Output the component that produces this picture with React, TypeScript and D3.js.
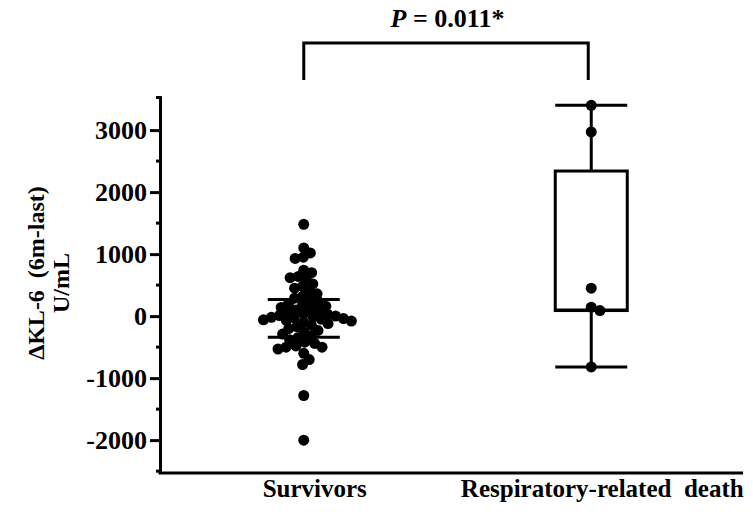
import React, { useEffect, useRef } from "react";
import * as d3 from "d3";

const groups = ["Survivors", "Respiratory-related death"];
const xLabels = ["Survivors", "Respiratory-related\u00a0\u00a0death"];

// ΔKL-6 values (U/mL)
const survivors = [
  1480, 1100, 1020, 950, 930, 740, 700, 640, 620, 600, 520, 480, 450, 400, 360, 320, 290,
  250, 230, 200, 180, 160, 140, 120, 100, 80, 60, 40, 30, 10, 0, -10, -20, -30, -40, -50,
  -60, -70, -80, -100, -120, -150, -170, -200, -230, -260, -290, -320,
  -350, -380, -420, -440, -480, -500, -500, -530, -600, -700, -780, -1280, -2000,
];
const deaths = [3400, 2970, 450, 145, 90, -820];

// survivors: interquartile bars
const survivorBars = [270, -340];
// death group box: min, q1, median, q3, max
const deathBox = [-820, 90, 100, 2340, 3400];

const yTicks = [-2000, -1000, 0, 1000, 2000, 3000];
const yMinor = [-2500, -1500, -500, 500, 1500, 2500];
const pText = " = 0.011*";

// simple beeswarm: keep each dot as close to the centre as it can get
const swarm = (values, yScale, d) => {
  const placed = [];
  const order = values.map((v, i) => i).sort((a, b) => values[b] - values[a]);
  const out = new Array(values.length);
  order.forEach((i) => {
    const yy = yScale(values[i]);
    const cands = [0];
    placed.forEach((p) => {
      const dy = Math.abs(p.y - yy);
      if (dy < d) {
        const dx = Math.sqrt(d * d - dy * dy);
        cands.push(p.x + dx, p.x - dx);
      }
    });
    cands.sort((a, b) => Math.abs(a) - Math.abs(b));
    const ok = cands.find((c) =>
      placed.every((p) => Math.hypot(p.x - c, p.y - yy) >= d - 0.01)
    );
    const xx = ok === undefined ? 0 : ok;
    placed.push({ x: xx, y: yy });
    out[i] = { x: xx, y: yy };
  });
  return out;
};

const App = () => {
  const svgRef = useRef(null);

  useEffect(() => {
    const w = 753;
    const h = 521;
    const left = 160, right = 735, top = 96, bottom = 473;
    const font = "'Liberation Serif', 'Times New Roman', serif";
    const r = 5.5;

    const svg = d3.select(svgRef.current);
    svg.selectAll("*").remove();
    svg.attr("width", w).attr("height", h);

    const x = d3.scalePoint().domain(groups).range([left, right]).padding(0.5);
    const y = d3.scaleLinear().domain([-2530, 3550]).range([bottom, top]);

    // y axis
    const yAxis = svg.append("g")
      .attr("transform", `translate(${left},0)`)
      .call(d3.axisLeft(y).tickValues(yTicks).tickSize(10).tickSizeOuter(0).tickPadding(3).tickFormat((d) => String(d)));
    yAxis.select(".domain").attr("stroke-width", 3);
    yAxis.selectAll(".tick line").attr("stroke-width", 3);
    yAxis.selectAll(".tick text")
      .attr("font-family", font).attr("font-size", 26).attr("font-weight", "bold").attr("fill", "#000");

    svg.append("g").selectAll("line").data(yMinor).join("line")
      .attr("x1", left - 4).attr("x2", left)
      .attr("y1", (d) => y(d)).attr("y2", (d) => y(d))
      .attr("stroke", "#000").attr("stroke-width", 3);
    // little cap at the top of the y axis
    svg.append("line")
      .attr("x1", left - 4).attr("x2", left + 1.5)
      .attr("y1", top + 1.5).attr("y2", top + 1.5)
      .attr("stroke", "#000").attr("stroke-width", 3);

    // x axis line
    svg.append("line")
      .attr("x1", left - 1.5).attr("x2", w - 10)
      .attr("y1", bottom).attr("y2", bottom)
      .attr("stroke", "#000").attr("stroke-width", 3);

    // x labels
    svg.append("g").selectAll("text").data(groups).join("text")
      .attr("x", (d) => x(d) + 11)
      .attr("y", 497)
      .attr("text-anchor", "middle")
      .attr("font-family", font).attr("font-size", 25).attr("font-weight", "bold")
      .text((d, i) => xLabels[i]);

    // y label
    const yl = svg.append("g").attr("font-family", font).attr("font-size", 24).attr("font-weight", "bold");
    yl.append("text")
      .attr("transform", "translate(44,273) rotate(-90)")
      .attr("text-anchor", "middle")
      .text("\u0394KL-6\u00a0\u00a0(6m-last)");
    yl.append("text")
      .attr("transform", "translate(69,283) rotate(-90)")
      .attr("text-anchor", "middle")
      .text("U/mL");

    // survivors scatter
    const cx0 = x(groups[0]);
    const pos = swarm(survivors, y, r * 1.5);
    svg.append("g").selectAll("circle").data(pos).join("circle")
      .attr("cx", (d) => cx0 + d.x).attr("cy", (d) => d.y).attr("r", r).attr("fill", "#000");
    svg.append("g").selectAll("line").data(survivorBars).join("line")
      .attr("x1", cx0 - 36).attr("x2", cx0 + 36)
      .attr("y1", (d) => y(d)).attr("y2", (d) => y(d))
      .attr("stroke", "#000").attr("stroke-width", 3);

    // death box plot
    const cx1 = x(groups[1]);
    const bw = 36;
    const [mn, q1, md, q3, mx] = deathBox;
    const bx = svg.append("g").attr("stroke", "#000").attr("stroke-width", 3).attr("fill", "none");
    bx.append("line").attr("x1", cx1).attr("x2", cx1).attr("y1", y(q3)).attr("y2", y(mx));
    bx.append("line").attr("x1", cx1).attr("x2", cx1).attr("y1", y(q1)).attr("y2", y(mn));
    bx.append("line").attr("x1", cx1 - bw).attr("x2", cx1 + bw).attr("y1", y(mx)).attr("y2", y(mx));
    bx.append("line").attr("x1", cx1 - bw).attr("x2", cx1 + bw).attr("y1", y(mn)).attr("y2", y(mn));
    bx.append("rect")
      .attr("x", cx1 - bw).attr("width", bw * 2)
      .attr("y", y(q3)).attr("height", y(q1) - y(q3))
      .attr("fill", "#fff");
    bx.append("line").attr("x1", cx1 - bw).attr("x2", cx1 + bw).attr("y1", y(md)).attr("y2", y(md));

    const pos1 = swarm(deaths, y, r * 1.7);
    svg.append("g").selectAll("circle").data(pos1).join("circle")
      .attr("cx", (d) => cx1 + d.x).attr("cy", (d) => d.y).attr("r", r).attr("fill", "#000");

    // significance bracket
    const by = 43;
    svg.append("path")
      .attr("d", `M${cx0},80V${by}H${cx1 - 3}V80`)
      .attr("fill", "none").attr("stroke", "#000").attr("stroke-width", 3);
    const pt = svg.append("text")
      .attr("x", (cx0 + cx1) / 2).attr("y", 27)
      .attr("text-anchor", "middle")
      .attr("font-family", font).attr("font-size", 26).attr("font-weight", "bold");
    pt.append("tspan").attr("font-style", "italic").text("P");
    pt.append("tspan").text(pText);
  }, []);

  return (
    <svg ref={svgRef} style={{ position: "absolute", left: 0, top: 0, background: "#fff" }}></svg>
  );
};

export default App;
